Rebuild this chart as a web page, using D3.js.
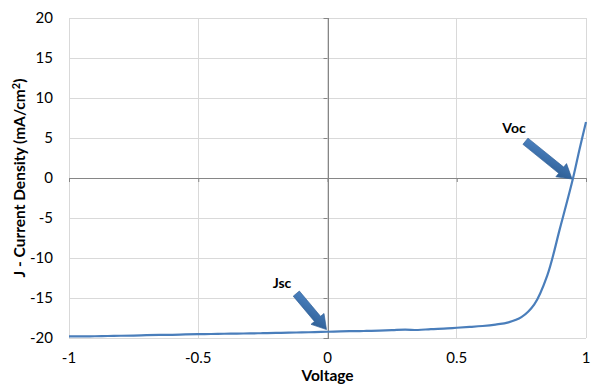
<!DOCTYPE html>
<html><head><meta charset="utf-8">
<script src="https://cdn.jsdelivr.net/npm/d3@7"></script>
<style>body{margin:0;background:#fff;} svg{display:block;}</style>
</head><body>
<svg id="c" width="600" height="392"></svg>
<script>
const voltage = [-1,-0.95,-0.9,-0.85,-0.8,-0.75,-0.7,-0.65,-0.6,-0.55,-0.5,-0.45,-0.4,-0.35,-0.3,-0.25,-0.2,-0.15,-0.1,-0.05,0,0.05,0.1,0.15,0.2,0.25,0.3,0.35,0.4,0.45,0.5,0.55,0.6,0.65,0.7,0.75,0.8,0.85,0.9,0.95,0.975,1.0];
const current = [-19.8,-19.8,-19.78,-19.75,-19.72,-19.7,-19.65,-19.62,-19.6,-19.55,-19.52,-19.5,-19.47,-19.45,-19.42,-19.4,-19.36,-19.33,-19.3,-19.26,-19.22,-19.18,-19.14,-19.12,-19.08,-19.02,-18.95,-19.0,-18.88,-18.82,-18.72,-18.62,-18.5,-18.32,-18.05,-17.4,-15.8,-12.2,-6.2,0,3.6,7.0];
const xTicks = [-1,-0.5,0,0.5,1];
const yTicks = [-20,-15,-10,-5,0,5,10,15,20];
const annotations = [
  {label:"Voc", v:0.95, j:0},
  {label:"Jsc", v:0, j:-19.2}
];

const svg = d3.select("#c");
const font = "Lato, 'Open Sans', sans-serif";
const x = d3.scaleLinear().domain([-1,1]).range([69,586]);
const y = d3.scaleLinear().domain([-20,20]).range([338,18]);

// gridlines
svg.append("g").selectAll("line").data(yTicks).join("line")
  .attr("x1",x(-1)).attr("x2",x(1)).attr("y1",d=>y(d)).attr("y2",d=>y(d))
  .attr("stroke","#d9d9d9").attr("stroke-width",1).attr("shape-rendering","crispEdges");
svg.append("g").selectAll("line").data(xTicks).join("line")
  .attr("y1",y(-20)).attr("y2",y(20)).attr("x1",d=>x(d)).attr("x2",d=>x(d))
  .attr("stroke","#d9d9d9").attr("stroke-width",1).attr("shape-rendering","crispEdges");

// zero axes
const axX = d3.axisBottom(x).tickValues(xTicks).tickSize(4).tickFormat("");
const gX = svg.append("g").attr("transform",`translate(0,${y(0)})`).call(axX);
gX.select(".domain").attr("stroke","#868686");
gX.selectAll(".tick line").attr("stroke","#868686");
const axY = d3.axisLeft(y).tickValues(yTicks).tickSize(4).tickFormat("");
const gY = svg.append("g").attr("transform",`translate(${x(0)},0)`).call(axY);
gY.select(".domain").attr("stroke","#868686");
gY.selectAll(".tick line").attr("stroke","#868686");
svg.selectAll(".domain").attr("shape-rendering","crispEdges");

// tick labels
svg.append("g").selectAll("text").data(yTicks).join("text")
  .attr("x",53).attr("y",d=>y(d)).attr("dy","0.35em").attr("text-anchor","end")
  .attr("font-family",font).attr("font-size",15).attr("fill","#000").text(d=>d);
svg.append("g").selectAll("text").data(xTicks).join("text")
  .attr("x",d=>x(d)).attr("y",358).attr("dy","0.35em").attr("text-anchor","middle")
  .attr("font-family",font).attr("font-size",15).attr("fill","#000").text(d=>d);

// axis titles
svg.append("text").attr("x",x(0)).attr("y",376).attr("dy","0.35em").attr("text-anchor","middle")
  .attr("font-family",font).attr("font-size",15.5).attr("font-weight","bold").text("Voltage");
const yt = svg.append("text").attr("transform",`translate(20,${y(0)}) rotate(-90)`).attr("text-anchor","middle")
  .attr("dy","0.35em").attr("font-family",font).attr("font-size",15.5).attr("font-weight","bold");
yt.append("tspan").text("J - Current Density  (mA/cm");
yt.append("tspan").attr("font-size",11).attr("dy","-5").text("2");
yt.append("tspan").attr("dy","5").text(")");

// curve
const pts = voltage.map((v,i)=>[v,current[i]]);
svg.append("path").datum(pts)
  .attr("d",d3.line().x(d=>x(d[0])).y(d=>y(d[1])).curve(d3.curveCatmullRom.alpha(0.5)))
  .attr("fill","none").attr("stroke","#4a7ebb").attr("stroke-width",2.2);

// arrows
const defs = svg.append("defs");
const grad = defs.append("linearGradient").attr("id","ag").attr("x1","0").attr("y1","0").attr("x2","1").attr("y2","1");
grad.append("stop").attr("offset","0").attr("stop-color","#4f86c6");
grad.append("stop").attr("offset","1").attr("stop-color","#2a5a8f");

function arrow(tx,ty,len,angleDeg){
  const bw=4, hw=8.5, hl=14;
  const shape=[[0,-bw],[len-hl,-bw],[len-hl,-hw],[len,0],[len-hl,hw],[len-hl,bw],[0,bw]];
  const a=angleDeg*Math.PI/180;
  const sx=tx-len*Math.cos(a), sy=ty-len*Math.sin(a);
  svg.append("polygon")
    .attr("points",shape.map(p=>p.join(",")).join(" "))
    .attr("transform",`translate(${sx},${sy}) rotate(${angleDeg})`)
    .attr("fill","url(#ag)").attr("stroke","#2f5f96").attr("stroke-width",0.6);
}
const vocA = annotations[0], jscA = annotations[1];
arrow(x(vocA.v)-1, y(vocA.j)+1, 60, 39);
arrow(x(jscA.v)-1, y(jscA.j)-2, 47, 50);

svg.append("text").attr("x",514).attr("y",128).attr("dy","0.35em").attr("text-anchor","middle")
  .attr("font-family",font).attr("font-size",14).attr("font-weight","bold").text(vocA.label);
svg.append("text").attr("x",282).attr("y",283).attr("dy","0.35em").attr("text-anchor","middle")
  .attr("font-family",font).attr("font-size",14).attr("font-weight","bold").text(jscA.label);
</script>
</body></html>
